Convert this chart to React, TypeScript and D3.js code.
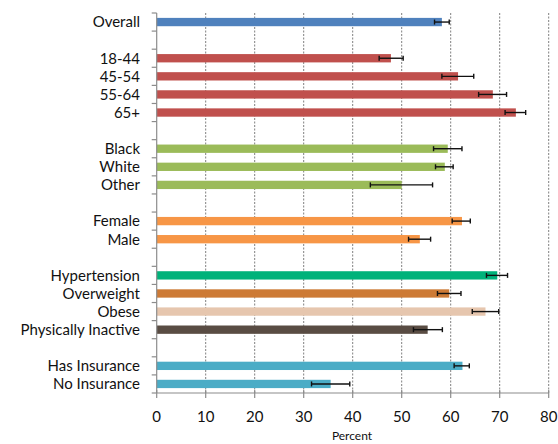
import React from "react";
import * as d3 from "d3";

// Rows (top to bottom); empty strings are spacer rows between groups
const categories = [
  "Overall", "",
  "18-44", "45-54", "55-64", "65+", "",
  "Black", "White", "Other", "",
  "Female", "Male", "",
  "Hypertension", "Overweight", "Obese", "Physically Inactive", "",
  "Has Insurance", "No Insurance",
];
const values = [
  58.2, null,
  47.8, 61.5, 68.6, 73.3, null,
  59.4, 58.8, 50.0, null,
  62.3, 53.7, null,
  69.5, 59.7, 67.1, 55.3, null,
  62.4, 35.5,
];
const lowerCI = [
  56.7, null,
  45.4, 58.2, 65.7, 71.1, null,
  56.5, 56.9, 43.6, null,
  60.3, 51.4, null,
  67.3, 57.3, 64.4, 52.4, null,
  60.7, 31.6,
];
const upperCI = [
  59.7, null,
  50.3, 64.7, 71.4, 75.3, null,
  62.3, 60.5, 56.3, null,
  64.0, 55.9, null,
  71.6, 62.1, 69.8, 58.3, null,
  63.8, 39.4,
];
const barColors = [
  "#4F81BD", null,
  "#C0504D", "#C0504D", "#C0504D", "#C0504D", null,
  "#9BBB59", "#9BBB59", "#9BBB59", null,
  "#F79646", "#F79646", null,
  "#00B27A", "#CD7A35", "#E6C6AE", "#594C43", null,
  "#4BACC6", "#4BACC6",
];
const xTicks = [0, 10, 20, 30, 40, 50, 60, 70, 80];
const xTitle = "Percent";

const W = 558;
const H = 444;
const left = 156.7;
const right = 548.7;
const top = 13;
const bottom = 393;
const font = "Lato, 'Open Sans', sans-serif";

export default function App() {
  const keys = categories.map((_, i) => String(i));
  const x = d3.scaleLinear().domain([0, 80]).range([left, right]);
  const y = d3.scaleBand<string>().domain(keys).range([top, bottom]).padding(0);
  const step = y.step();
  const barH = step * 0.46;
  const boundaries = d3.range(categories.length + 1).map((i) => top + i * step);

  return (
    <svg
      width={W}
      height={H}
      style={{ position: "absolute", left: 0, top: 0, background: "#fff" }}
      fontFamily={font}
    >
      {/* gridlines */}
      {xTicks.filter((t) => t > 0).map((t) => (
        <line
          key={"g" + t}
          x1={x(t)}
          x2={x(t)}
          y1={top}
          y2={bottom}
          stroke="#7f7f7f"
          strokeWidth={1}
          strokeDasharray="2,1.5"
        />
      ))}

      {/* bars */}
      {categories.map((c, i) => {
        const v = values[i];
        if (v == null) return null;
        const cy = (y(keys[i]) as number) + step / 2;
        return (
          <rect
            key={"b" + i}
            x={x(0)}
            y={cy - barH / 2}
            width={x(v) - x(0)}
            height={barH}
            fill={barColors[i] as string}
          />
        );
      })}

      {/* error bars */}
      {categories.map((c, i) => {
        const lo = lowerCI[i];
        const hi = upperCI[i];
        if (lo == null || hi == null) return null;
        const cy = (y(keys[i]) as number) + step / 2;
        return (
          <g key={"e" + i} stroke="#111" strokeWidth={1.4}>
            <line x1={x(lo)} x2={x(hi)} y1={cy} y2={cy} />
            <line x1={x(lo)} x2={x(lo)} y1={cy - 2.5} y2={cy + 2.5} />
            <line x1={x(hi)} x2={x(hi)} y1={cy - 2.5} y2={cy + 2.5} />
          </g>
        );
      })}

      {/* y axis */}
      <line x1={left} x2={left} y1={top} y2={bottom} stroke="#8c8c8c" strokeWidth={1.2} />
      {boundaries.map((b, i) => (
        <line key={"yt" + i} x1={left - 5} x2={left} y1={b} y2={b} stroke="#8c8c8c" strokeWidth={1.2} />
      ))}
      {categories.map((c, i) =>
        c ? (
          <text
            key={"l" + i}
            x={140}
            y={(y(keys[i]) as number) + step / 2}
            dy="0.36em"
            textAnchor="end"
            fontSize={15}
            fill="#111"
          >
            {c}
          </text>
        ) : null
      )}

      {/* x axis */}
      <line x1={left} x2={right} y1={bottom} y2={bottom} stroke="#8c8c8c" strokeWidth={1.2} />
      {xTicks.map((t) => (
        <g key={"xt" + t}>
          <line x1={x(t)} x2={x(t)} y1={bottom - 3} y2={bottom + 5} stroke="#8c8c8c" strokeWidth={1.2} />
          <text x={x(t)} y={422} textAnchor="middle" fontSize={15} fill="#111">
            {t}
          </text>
        </g>
      ))}
      <text x={352} y={440} textAnchor="middle" fontSize={12} fill="#111">
        {xTitle}
      </text>
    </svg>
  );
}
